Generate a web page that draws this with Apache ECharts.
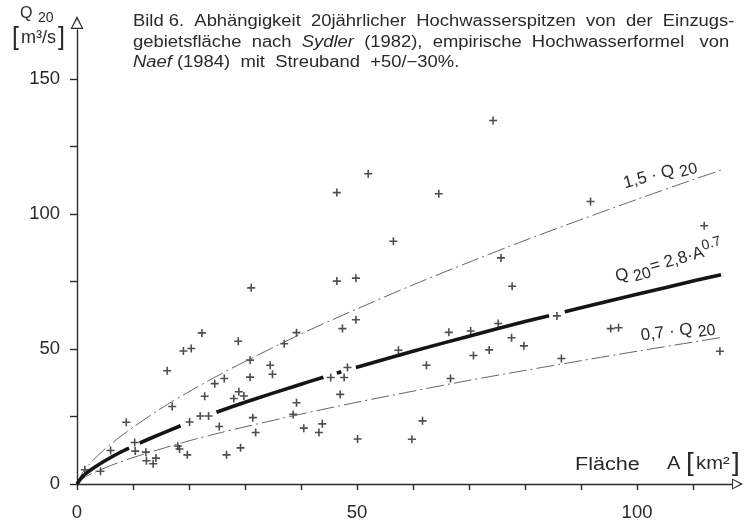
<!DOCTYPE html>
<html>
<head>
<meta charset="utf-8">
<script src="https://cdn.jsdelivr.net/npm/echarts@6/dist/echarts.min.js"></script>
<style>
html,body{margin:0;padding:0;background:#fff;}
#c{width:752px;height:522px;}
</style>
</head>
<body>
<div id="c"></div>
<script>
// ---- data ----
// thick curve Q20 = 2,8 · A^0.7 (drawn with breaks, as in the original)
const meanArea = [0, 1, 2, 3, 5, 7.5, 9.3, 10.2, 11.2, 15, 18.5, 21.5, 24.9, 30, 40, 44, 45.5, 46.4, 47.2, 48.5, 49.8, 60, 70, 80, 84.3, 85.7, 87.1, 90, 100, 110, 115];
const meanPeak = [0, 2.8, 4.55, 6.04, 8.64, 11.5, 13.3, null, 15.2, 18.6, 21.6, null, 26.6, 30.3, 37.0, 39.6, null, 41.1, 41.6, null, 43.2, 49.2, 54.8, 60.2, 62.4, null, 63.8, 65.3, 70.3, 75.2, 77.6];
// scatter band +50 % / -30 %
const bandArea = [0, 1, 2, 3, 5, 7.5, 10, 15, 20, 25, 30, 40, 50, 60, 70, 80, 90, 100, 110, 115];
const bandUpper = [0, 4.2, 6.8, 9.1, 13.0, 17.2, 21.0, 28.0, 34.2, 40.0, 45.4, 55.6, 64.9, 73.8, 82.2, 90.3, 98.0, 105.5, 112.8, 116.3];
const bandLower = [0, 2.0, 3.2, 4.2, 6.0, 8.0, 9.8, 13.0, 16.0, 18.7, 21.2, 25.9, 30.3, 34.4, 38.4, 42.1, 45.7, 49.2, 52.6, 54.3];

// observed 20-year flood peaks (area km², peak m³/s)
const pointArea = [1.4, 4.2, 6.0, 8.8, 10.3, 10.4, 12.3, 12.4, 14.1, 13.6, 16.1, 17.0, 18.0, 18.3, 19.0, 20.4, 20.1, 19.7,
  22.3, 22.8, 22.0, 23.5, 24.6, 26.3, 25.4, 26.7, 28.0, 28.9, 29.8, 28.8, 29.2, 30.9, 30.9, 31.4, 31.9, 31.1,
  34.5, 34.9, 37.0, 39.2, 39.2, 38.6, 40.5, 43.8, 43.2, 45.3, 47.7, 48.3, 47.0, 46.4, 49.8, 49.8, 47.4, 50.1,
  57.4, 62.4, 61.7, 59.8, 66.4, 70.3, 75.2, 77.6, 79.8, 70.8, 73.6, 85.7, 95.3, 96.7, 86.5, 66.7, 112.0, 114.8,
  91.7, 74.3, 64.6, 75.7, 77.7, 46.4, 52.0, 56.5];
const pointPeak = [5.3, 4.7, 12.4, 22.9, 15.4, 12.2, 11.8, 8.6, 9.6, 7.5, 42.0, 28.7, 14.1, 13.0, 49.3, 50.2, 23.0, 10.8,
  56.0, 32.5, 25.2, 25.2, 37.2, 39.1, 21.3, 10.8, 31.7, 34.2, 32.6, 52.9, 13.4, 45.9, 39.6, 24.6, 19.1, 72.7,
  44.0, 40.7, 52.0, 56.1, 30.1, 25.8, 20.7, 22.3, 19.1, 39.5, 39.5, 43.2, 33.2, 75.2, 76.3, 60.9, 57.6, 16.7,
  49.6, 44.0, 23.4, 16.6, 56.2, 56.7, 59.5, 54.2, 51.2, 47.6, 49.7, 62.3, 57.6, 57.9, 46.5, 39.1, 95.7, 49.2,
  104.7, 134.7, 107.6, 83.8, 73.3, 108.0, 115.0, 90.0];

const xTicks = [0, 10, 20, 30, 40, 50, 60, 70, 80, 90, 100, 110];
const xLabels = [0, 50, 100];
const yTicks = [0, 25, 50, 75, 100, 125, 150];
const yLabels = [0, 50, 100, 150];

// ---- chart ----
const pair = (xs, ys) => xs.map((x, i) => [x, ys[i]]);
const FONT = '"Liberation Sans", Arial, Helvetica, sans-serif';
const INK = '#2a2a2a';
const plus = 'path://M4,0 H6 V4 H10 V6 H6 V10 H4 V6 H0 V4 H4 Z';
const hollowArrow = 'path://M10,0 L20,20 L0,20 Z M10,5 L2.8,18.2 L17.2,18.2 Z';
const capStyle = {fontSize: 16, fontFamily: FONT, fill: INK, verticalAlign: 'middle'};
const ital = {fontStyle: 'italic', fontSize: 16, fontFamily: FONT, fill: INK};

const chart = echarts.init(document.getElementById('c'), null, {renderer: 'canvas'});
chart.setOption({
  animation: false,
  backgroundColor: '#fff',
  grid: {left: 77, top: 30, width: 655, height: 456, containLabel: false},
  xAxis: {
    type: 'value', min: 0, max: 116.96,
    axisLine: {show: true, lineStyle: {color: INK, width: 1.4}, symbol: ['none', hollowArrow], symbolSize: [12, 11], symbolOffset: [0, 5.5]},
    axisTick: {show: true, inside: false, length: 6, customValues: xTicks, lineStyle: {color: INK, width: 1.4}},
    axisLabel: {customValues: xLabels, color: INK, fontSize: 18.5, fontFamily: FONT, margin: 19},
    splitLine: {show: false}
  },
  yAxis: {
    type: 'value', min: 0, max: 168.27,
    axisLine: {show: true, lineStyle: {color: INK, width: 1.4}, symbol: ['none', hollowArrow], symbolSize: [13, 15], symbolOffset: [0, 7.5]},
    axisTick: {show: true, inside: false, length: 7, customValues: yTicks, lineStyle: {color: INK, width: 1.4}},
    axisLabel: {customValues: yLabels, color: INK, fontSize: 18.5, fontFamily: FONT, margin: 17},
    splitLine: {show: false}
  },
  series: [
    {type: 'line', data: pair(bandArea, bandUpper), smooth: 0.3, showSymbol: false, silent: true,
     lineStyle: {color: '#666', width: 1, type: [18, 4, 2, 4]}},
    {type: 'line', data: pair(bandArea, bandLower), smooth: 0.3, showSymbol: false, silent: true,
     lineStyle: {color: '#666', width: 1, type: [18, 4, 2, 4]}},
    {type: 'line', data: pair(meanArea, meanPeak), smooth: 0.3, connectNulls: false, showSymbol: false, silent: true,
     lineStyle: {color: '#151515', width: 3.6, cap: 'butt'}},
    {type: 'scatter', data: pair(pointArea, pointPeak), symbol: plus, symbolSize: 8,
     itemStyle: {color: '#222'}}
  ],
  graphic: [
    {type: 'text', x: 133, y: 22, scaleX: 1.15, style: Object.assign({text: 'Bild 6.  Abhängigkeit  20jährlicher  Hochwasserspitzen  von  der  Einzugs-'}, capStyle)},
    {type: 'text', x: 133, y: 43, scaleX: 1.15, style: Object.assign({text: 'gebietsfläche  nach  {i|Sydler}  (1982),  empirische  Hochwasserformel   von', rich: {i: ital}}, capStyle)},
    {type: 'text', x: 133, y: 63, scaleX: 1.15, style: Object.assign({text: '{i|Naef} (1984)  mit  Streuband  +50/−30%.', rich: {i: ital}}, capStyle)},
    {type: 'text', x: 20, y: 6, style: {text: 'Q', fontSize: 16, fontFamily: FONT, fill: INK}},
    {type: 'text', x: 38, y: 11, style: {text: '20', fontSize: 14, fontFamily: FONT, fill: INK}},
    {type: 'text', x: 12, y: 38, style: {text: '{b|[}{t|m³/s}{b|]}', verticalAlign: 'middle', fill: INK,
      rich: {b: {fontSize: 25, fontFamily: FONT, fill: INK, verticalAlign: 'middle', lineHeight: 28},
             t: {fontSize: 18, fontFamily: FONT, fill: INK, verticalAlign: 'middle', lineHeight: 28, padding: [0, 2, 0, 2]}}}},
    {type: 'text', x: 575, y: 465, scaleX: 1.2, style: {text: 'Fläche', fontSize: 18, fontFamily: FONT, fill: INK, verticalAlign: 'middle'}},
    {type: 'text', x: 667, y: 464, scaleX: 1.12, style: {text: '{a|A }{b|[}{t|km²}{b|]}', verticalAlign: 'middle', fill: INK,
      rich: {a: {fontSize: 18, fontFamily: FONT, fill: INK, verticalAlign: 'middle', lineHeight: 28},
             b: {fontSize: 25, fontFamily: FONT, fill: INK, verticalAlign: 'middle', lineHeight: 28},
             t: {fontSize: 18, fontFamily: FONT, fill: INK, verticalAlign: 'middle', lineHeight: 28, padding: [0, 2, 0, 2]}}}},
    {type: 'group', x: 660, y: 174, rotation: 0.26, children: [
      {type: 'text', style: {text: '{m|1,5 · Q}{s|20}', align: 'center', verticalAlign: 'middle', fill: INK, fontFamily: FONT,
        rich: {m: {fontSize: 17, lineHeight: 24, verticalAlign: 'middle', fontFamily: FONT, fill: INK},
               s: {fontSize: 16, lineHeight: 16, verticalAlign: 'bottom', fontFamily: FONT, fill: INK, padding: [0, 0, 0, 5]}}}}
    ]},
    {type: 'group', x: 669, y: 262, rotation: 0.28, children: [
      {type: 'text', style: {text: '{m|Q}{s|20}{m|= 2,8·A}{e|0.7}', align: 'center', verticalAlign: 'middle', fill: INK, fontFamily: FONT,
        rich: {m: {fontSize: 17, lineHeight: 26, verticalAlign: 'middle', fontFamily: FONT, fill: INK},
               s: {fontSize: 16, lineHeight: 16, verticalAlign: 'bottom', fontFamily: FONT, fill: INK, padding: [0, 1, 0, 4]},
               e: {fontSize: 14, lineHeight: 14, verticalAlign: 'top', fontFamily: FONT, fill: INK}}}}
    ]},
    {type: 'group', x: 678, y: 331, rotation: 0.13, children: [
      {type: 'text', style: {text: '{m|0,7 · Q}{s|20}', align: 'center', verticalAlign: 'middle', fill: INK, fontFamily: FONT,
        rich: {m: {fontSize: 17, lineHeight: 24, verticalAlign: 'middle', fontFamily: FONT, fill: INK},
               s: {fontSize: 16, lineHeight: 16, verticalAlign: 'bottom', fontFamily: FONT, fill: INK, padding: [0, 0, 0, 5]}}}}
    ]}
  ]
});
</script>
</body>
</html>
